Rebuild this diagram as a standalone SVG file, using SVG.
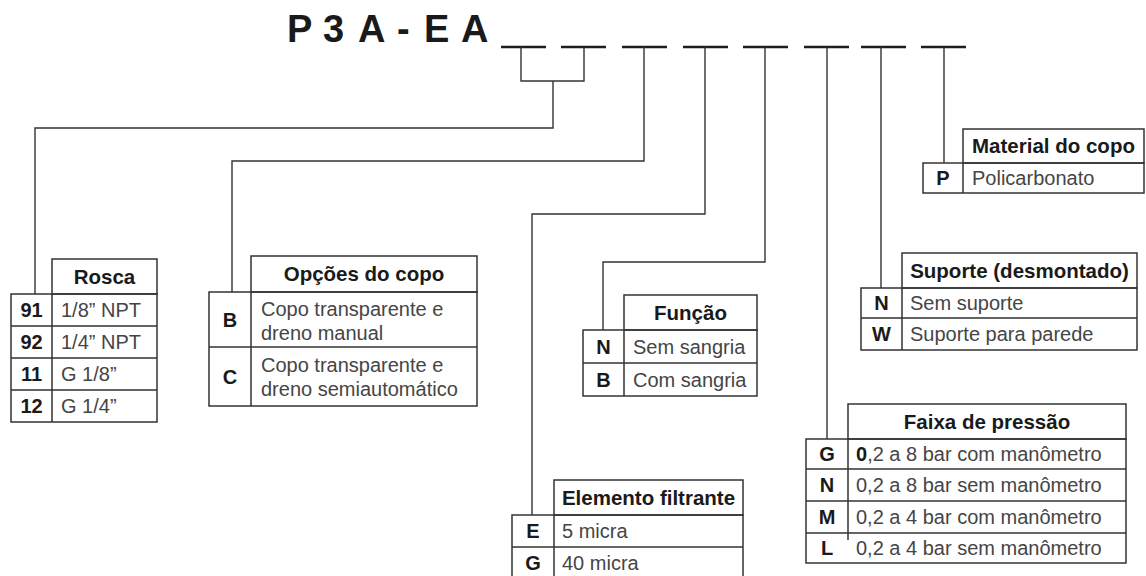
<svg xmlns="http://www.w3.org/2000/svg" width="1146" height="576" viewBox="0 0 1146 576">
<style>
.bg{fill:#fff}
.dash{stroke:#1e1e1e;stroke-width:2.6;fill:none}
.con{stroke:#333;stroke-width:1.4;fill:none}
.cell{stroke:#333;stroke-width:1.5;fill:none}
.hd{font-family:"Liberation Sans",Arial,sans-serif;font-weight:bold;font-size:20.5px;fill:#1a1a1a;text-anchor:middle}
.cd{font-family:"Liberation Sans",Arial,sans-serif;font-weight:bold;font-size:20px;fill:#1a1a1a;text-anchor:middle}
.ds{font-family:"Liberation Sans",Arial,sans-serif;font-size:20px;fill:#454545}
.title{font-family:"Liberation Sans",Arial,sans-serif;font-weight:bold;font-size:38px;fill:#1a1a1a}
</style>
<rect class="bg" x="0" y="0" width="1146" height="576"/>

<g id="title">
<text class="title" x="287 323 358 397 424 461" y="42">P3A-EA</text>
</g>

<g id="connectors">
<path class="dash" d="M501,47H546M561,47H606M622,47H667M683,47H728M743,47H788M804,47H849M861,47H906M921,47H966"/>
<path class="con" d="M521,47V81H584V47M553,81V128H35V294"/>
<path class="con" d="M644,47V161H232V292"/>
<path class="con" d="M705,47V214H532V515"/>
<path class="con" d="M765,47V262H603V330"/>
<path class="con" d="M827,47V439"/>
<path class="con" d="M881,47V288"/>
<path class="con" d="M944,47V163"/>
</g>

<g id="rosca">
<rect class="cell" x="52" y="259" width="105" height="35"/>
<rect class="cell" x="11" y="294" width="146" height="128"/>
<path class="cell" d="M52,294V422M11,326H157M11,358H157M11,390H157"/>
<text class="hd" x="104.5" y="284">Rosca</text>
<text class="cd" x="31.5" y="317">91</text><text class="ds" x="61" y="317">1/8” NPT</text>
<text class="cd" x="31.5" y="349">92</text><text class="ds" x="61" y="349">1/4” NPT</text>
<text class="cd" x="31.5" y="381">11</text><text class="ds" x="61" y="381">G 1/8”</text>
<text class="cd" x="31.5" y="413">12</text><text class="ds" x="61" y="413">G 1/4”</text>
</g>

<g id="opcoes">
<rect class="cell" x="251" y="256" width="226" height="36"/>
<rect class="cell" x="209" y="292" width="268" height="114"/>
<path class="cell" d="M251,292V406M209,347H477"/>
<text class="hd" x="364" y="281">Opções do copo</text>
<text class="cd" x="230" y="327">B</text>
<text class="ds" x="261" y="316">Copo transparente e</text>
<text class="ds" x="261" y="340">dreno manual</text>
<text class="cd" x="230" y="384">C</text>
<text class="ds" x="261" y="372">Copo transparente e</text>
<text class="ds" x="261" y="396">dreno semiautomático</text>
</g>

<g id="funcao">
<rect class="cell" x="624" y="295" width="133" height="35"/>
<rect class="cell" x="583" y="330" width="174" height="66"/>
<path class="cell" d="M624,330V396M583,363H757"/>
<text class="hd" x="690.5" y="320">Função</text>
<text class="cd" x="603.5" y="354">N</text><text class="ds" x="633" y="354">Sem sangria</text>
<text class="cd" x="603.5" y="387">B</text><text class="ds" x="633" y="387">Com sangria</text>
</g>

<g id="elemento">
<rect class="cell" x="554" y="480" width="189" height="35"/>
<rect class="cell" x="512" y="515" width="231" height="66"/>
<path class="cell" d="M554,515V581M512,547H743"/>
<text class="hd" x="648.5" y="505">Elemento filtrante</text>
<text class="cd" x="533" y="538">E</text><text class="ds" x="562" y="538">5 micra</text>
<text class="cd" x="533" y="570">G</text><text class="ds" x="562" y="570">40 micra</text>
</g>

<g id="faixa">
<rect class="cell" x="848" y="404" width="278" height="35"/>
<rect class="cell" x="806" y="439" width="320" height="124"/>
<path class="cell" d="M848,439V540M806,469H1126M806,501H1126M806,533H1126"/>
<text class="hd" x="987" y="429">Faixa de pressão</text>
<text class="cd" x="827" y="461">G</text><text class="ds" x="856" y="461"><tspan font-weight="bold" fill="#1a1a1a">0</tspan>,2 a 8 bar com manômetro</text>
<text class="cd" x="827" y="492">N</text><text class="ds" x="856" y="492">0,2 a 8 bar sem manômetro</text>
<text class="cd" x="827" y="524">M</text><text class="ds" x="856" y="524">0,2 a 4 bar com manômetro</text>
<text class="cd" x="827" y="555">L</text><text class="ds" x="856" y="555">0,2 a 4 bar sem manômetro</text>
</g>

<g id="suporte">
<rect class="cell" x="902" y="253" width="235" height="35"/>
<rect class="cell" x="861" y="288" width="276" height="62"/>
<path class="cell" d="M902,288V350M861,318H1137"/>
<text class="hd" x="1019.5" y="278">Suporte (desmontado)</text>
<text class="cd" x="881.5" y="310">N</text><text class="ds" x="910" y="310">Sem suporte</text>
<text class="cd" x="881.5" y="341">W</text><text class="ds" x="910" y="341">Suporte para parede</text>
</g>

<g id="material">
<rect class="cell" x="963" y="129" width="181" height="34"/>
<rect class="cell" x="923" y="163" width="221" height="30"/>
<path class="cell" d="M963,163V193"/>
<text class="hd" x="1053.5" y="153">Material do copo</text>
<text class="cd" x="943" y="185">P</text><text class="ds" x="972" y="185">Policarbonato</text>
</g>
</svg>
